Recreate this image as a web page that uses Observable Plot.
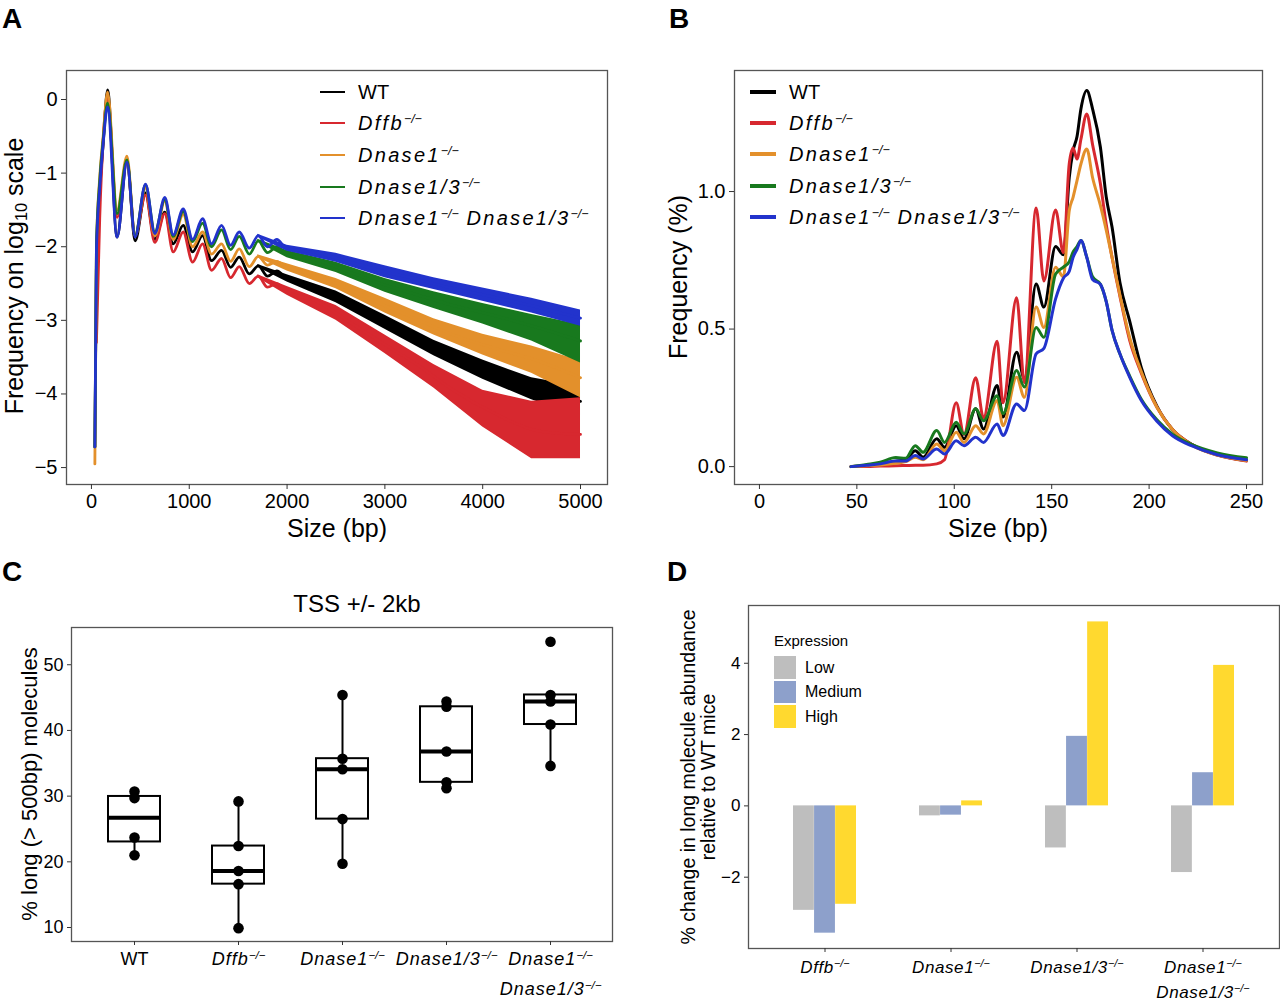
<!DOCTYPE html>
<html><head><meta charset="utf-8">
<script src="https://cdn.jsdelivr.net/npm/d3@7"></script>
<script src="https://cdn.jsdelivr.net/npm/@observablehq/plot@0.6"></script>
<style>
html, body { margin:0; padding:0; background:#fff; }
body { width:1280px; height:1000px; overflow:hidden; position:relative; font-family:"Liberation Sans", Arial, Helvetica, sans-serif; color:#000; }
.gene { font-style:italic; }
sup { font-size:62%; vertical-align:0.6em; line-height:0; letter-spacing:0; }
sub { font-size:65%; vertical-align:-0.25em; line-height:0; }
</style>
</head><body>
<script>
// ---------------- Panel A data (log10 frequency vs fragment size, 0-5000 bp) ----------------
const genotypes = ["WT", "Dffb−/−", "Dnase1−/−", "Dnase1/3−/−", "Dnase1−/− Dnase1/3−/−"];
const genoColors = ["#000000", "#D7282F", "#E3902B", "#18791E", "#2233CC"];

const sizeA = [35, 51, 85, 120, 165, 262, 363, 446, 553, 648, 750, 836, 938, 1034, 1136, 1228, 1330, 1423, 1511, 1614, 1706, 1800, 1895, 1990, 2300, 2669, 3000, 3350, 3702, 4100, 4562, 5000];
const logWT     = [-4.72, -2.2, -1.25, -0.6, 0.13, -1.87, -0.83, -1.92, -1.27, -1.9, -1.53, -1.96, -1.71, -2.07, -1.85, -2.19, -2.05, -2.28, -2.14, -2.37, -2.26, -2.4, -2.33, -2.43, -2.56, -2.8, -3.02, -3.28, -3.52, -3.72, -3.95, -4.1];
const logDffb   = [null, -3.3, -1.6, -0.55, 0.03, -1.6, -0.85, -1.85, -1.3, -1.94, -1.55, -2.07, -1.8, -2.21, -1.96, -2.32, -2.16, -2.42, -2.27, -2.5, -2.4, -2.55, -2.5, -2.6, -2.74, -3.05, -3.33, -3.62, -3.95, -4.25, -4.5, -4.55];
const logDnase1 = [-4.95, -2.0, -1.05, -0.5, 0.1, -1.5, -0.77, -1.85, -1.2, -1.85, -1.38, -1.9, -1.56, -2.0, -1.8, -2.1, -1.96, -2.2, -2.03, -2.27, -2.13, -2.25, -2.2, -2.28, -2.38, -2.6, -2.8, -3.0, -3.2, -3.37, -3.55, -3.78];
const logDnase13= [-4.72, -2.0, -1.1, -0.55, -0.05, -1.55, -0.82, -1.85, -1.16, -1.8, -1.36, -1.86, -1.52, -1.93, -1.68, -2.0, -1.77, -2.04, -1.86, -2.1, -1.92, -2.08, -2.0, -2.1, -2.18, -2.36, -2.52, -2.66, -2.8, -2.93, -3.1, -3.28];
const logDKO    = [-4.72, -2.05, -1.19, -0.6, -0.1, -1.87, -0.85, -1.87, -1.15, -1.82, -1.33, -1.84, -1.485, -1.9, -1.62, -1.96, -1.71, -1.98, -1.8, -2.02, -1.85, -2.0, -1.9, -2.02, -2.08, -2.22, -2.34, -2.45, -2.57, -2.68, -2.82, -2.97];

// noise envelope of the long-fragment tail (lower / upper edge of each trace)
const bandSizes = [1700, 2000, 2500, 3000, 3500, 4000, 4500, 5000];
const loWT      = [-2.28, -2.48, -2.76, -3.12, -3.48, -3.8, -4.08, -4.3];
const hiWT      = [-2.24, -2.38, -2.6, -2.93, -3.27, -3.54, -3.78, -3.9];
const loDffb    = [-2.42, -2.66, -3.0, -3.45, -3.92, -4.45, -4.88, -4.88];
const hiDffb    = [-2.38, -2.54, -2.8, -3.2, -3.6, -3.95, -4.1, -4.05];
const loDnase1  = [-2.15, -2.33, -2.57, -2.9, -3.2, -3.47, -3.72, -4.05];
const hiDnase1  = [-2.11, -2.23, -2.43, -2.7, -2.98, -3.19, -3.35, -3.55];
const loDnase13 = [-1.94, -2.15, -2.35, -2.62, -2.84, -3.05, -3.28, -3.58];
const hiDnase13 = [-1.9, -2.05, -2.21, -2.43, -2.61, -2.77, -2.92, -3.06];
const loDKO     = [-1.87, -2.06, -2.21, -2.42, -2.58, -2.74, -2.9, -3.08];
const hiDKO     = [-1.83, -1.98, -2.09, -2.26, -2.42, -2.56, -2.7, -2.86];

// ---------------- Panel B data (frequency %, 47-250 bp) ----------------
const sizeB = [47, 55, 62, 70, 75, 80, 84, 91, 95, 101, 105, 111, 115, 122, 125, 132, 136, 142, 146, 152, 156, 159, 161, 163, 165, 168, 171, 175, 178, 181, 185, 190, 196, 204, 212, 222, 235, 250];
const pctWT      = [0.0, 0.003, 0.008, 0.02, 0.025, 0.058, 0.034, 0.101, 0.07, 0.149, 0.101, 0.21, 0.137, 0.295, 0.18, 0.416, 0.319, 0.664, 0.58, 0.8, 0.77, 1.05, 1.149, 1.2, 1.3, 1.367, 1.3, 1.161, 0.98, 0.87, 0.67, 0.53, 0.36, 0.22, 0.135, 0.08, 0.043, 0.022];
const pctDffb    = [0.0, 0.0, 0.002, 0.003, 0.004, 0.005, 0.005, 0.01, 0.025, 0.232, 0.117, 0.323, 0.177, 0.456, 0.232, 0.614, 0.305, 0.94, 0.675, 0.933, 0.778, 1.1, 1.158, 1.118, 1.19, 1.282, 1.17, 1.028, 0.88, 0.76, 0.62, 0.46, 0.34, 0.216, 0.135, 0.08, 0.042, 0.02];
const pctDnase1  = [0.0, 0.003, 0.006, 0.012, 0.018, 0.034, 0.025, 0.082, 0.058, 0.125, 0.088, 0.149, 0.119, 0.24, 0.149, 0.325, 0.252, 0.58, 0.506, 0.725, 0.69, 0.93, 0.98, 1.04, 1.1, 1.155, 1.05, 0.95, 0.86, 0.76, 0.625, 0.47, 0.345, 0.216, 0.135, 0.078, 0.042, 0.022];
const pctDnase13 = [0.0, 0.008, 0.016, 0.033, 0.03, 0.076, 0.052, 0.131, 0.088, 0.161, 0.119, 0.21, 0.167, 0.258, 0.192, 0.349, 0.289, 0.506, 0.47, 0.7, 0.725, 0.745, 0.78, 0.8, 0.822, 0.761, 0.69, 0.663, 0.6, 0.495, 0.41, 0.33, 0.245, 0.17, 0.118, 0.08, 0.05, 0.032];
const pctDKO     = [0.0, 0.005, 0.01, 0.02, 0.02, 0.04, 0.028, 0.064, 0.046, 0.094, 0.076, 0.107, 0.088, 0.155, 0.113, 0.228, 0.204, 0.41, 0.43, 0.61, 0.685, 0.71, 0.761, 0.79, 0.822, 0.761, 0.68, 0.663, 0.6, 0.495, 0.41, 0.325, 0.24, 0.165, 0.112, 0.075, 0.043, 0.025];

// ---------------- Panel C data (% long molecules, per mouse) ----------------
const groupsC = ["WT", "Dffb−/−", "Dnase1−/−", "Dnase1/3−/−", "Dnase1−/−\nDnase1/3−/−"];
const longWT      = [30.7, 29.7, 23.7, 21.0];
const longDffb    = [29.2, 22.4, 18.6, 16.6, 9.9];
const longDnase1  = [45.4, 35.7, 34.1, 26.5, 19.7];
const longDnase13 = [44.4, 43.6, 36.8, 32.1, 31.2];
const longDKO     = [53.5, 45.4, 44.4, 40.9, 34.6];

// ---------------- Panel D data (% change relative to WT) ----------------
const groupsD = ["Dffb−/−", "Dnase1−/−", "Dnase1/3−/−", "Dnase1−/−\nDnase1/3−/−"];
const exprLevels = ["Low", "Medium", "High"];
const exprColors = ["#BEBEBE", "#8DA0CB", "#FFD92F"];
const changeLow    = [-2.93, -0.28, -1.18, -1.87];
const changeMedium = [-3.57, -0.26, 1.95, 0.93];
const changeHigh   = [-2.76, 0.14, 5.16, 3.94];

// ================= helpers =================
const FONT = "Liberation Sans, Arial, Helvetica, sans-serif";
const SVGNS = "http://www.w3.org/2000/svg";

function place(node, left, top) {
  const d = document.createElement("div");
  d.style.cssText = `position:absolute;left:${left}px;top:${top}px;line-height:0;`;
  d.appendChild(node);
  document.body.appendChild(d);
  return d;
}
function htmlText(html, {x, y, size, anchor = "middle", rotate = 0, weight = "normal", extra = ""}) {
  const d = document.createElement("div");
  d.innerHTML = html;
  const tx = anchor === "middle" ? "-50%" : anchor === "end" ? "-100%" : "0";
  d.style.cssText = `position:absolute;left:${x}px;top:${y}px;font-size:${size}px;line-height:1;white-space:nowrap;font-weight:${weight};text-align:center;${extra}`;
  d.style.transform = `translate(${tx},-50%)` + (rotate ? ` rotate(${rotate}deg)` : "");
  document.body.appendChild(d);
  return d;
}
function keyLine(x, y, w, h, color) {
  const d = document.createElement("div");
  d.style.cssText = `position:absolute;left:${x}px;top:${y - h / 2}px;width:${w}px;height:${h}px;background:${color};`;
  document.body.appendChild(d);
}
// superscript "−/−" inside svg text
function supify(svg) {
  const walker = document.createTreeWalker(svg, NodeFilter.SHOW_TEXT);
  const nodes = [];
  while (walker.nextNode()) nodes.push(walker.currentNode);
  for (const n of nodes) {
    const s = n.nodeValue;
    if (!s.includes("−/−")) continue;
    const parts = s.split("−/−");
    const frag = document.createDocumentFragment();
    parts.forEach((p, k) => {
      if (p) frag.appendChild(document.createTextNode(p));
      if (k < parts.length - 1) {
        const t = document.createElementNS(SVGNS, "tspan");
        t.setAttribute("baseline-shift", "super");
        t.setAttribute("font-size", "64%");
        t.setAttribute("letter-spacing", "0");
        t.textContent = "−/−";
        frag.appendChild(t);
      }
    });
    n.parentNode.replaceChild(frag, n);
  }
}
function italicGeneTicks(svg, spacing) {
  svg.querySelectorAll('g[aria-label="x-axis tick label"] text').forEach(t => {
    if (t.textContent.trim() !== "WT") {
      t.setAttribute("font-style", "italic");
      t.setAttribute("letter-spacing", spacing);
    }
  });
}
const geneHTML = s => s === "WT" ? "WT" :
  `<span class="gene">${s.replace(/−\/−/g, "<sup>−/−</sup>")}</span>`;

// ================= Panel A =================
{
  const series = [
    [logWT, loWT, hiWT], [logDffb, loDffb, hiDffb], [logDnase1, loDnase1, hiDnase1],
    [logDnase13, loDnase13, hiDnase13], [logDKO, loDKO, hiDKO]
  ];
  const marks = series.flatMap(([vals, lo, hi], i) => [
    Plot.areaY(bandSizes.map((s, j) => ({x: s, lo: lo[j], hi: hi[j]})),
      {x: "x", y1: "lo", y2: "hi", fill: genoColors[i], curve: "linear"}),
    Plot.line(sizeA.map((s, j) => ({x: s, y: vals[j]})).filter(d => d.y != null),
      {x: "x", y: "y", stroke: genoColors[i], strokeWidth: 2.8, curve: "monotone-x"})
  ]);
  const svg = Plot.plot({
    width: 620, height: 490,
    marginLeft: 66, marginRight: 13, marginTop: 10, marginBottom: 66,
    style: {fontFamily: FONT, color: "#000", background: "transparent", overflow: "visible"},
    x: {domain: [-255, 5276], label: null},
    y: {domain: [-5.23, 0.394], label: null},
    marks: [
      ...marks,
      Plot.frame({stroke: "#555", strokeWidth: 1.3}),
      Plot.axisX({ticks: [0, 1000, 2000, 3000, 4000, 5000], tickFormat: d3.format("d"), tickSize: 5, tickPadding: 4, fontSize: 20, stroke: "#333", label: null}),
      Plot.axisY({ticks: [0, -1, -2, -3, -4, -5], tickFormat: d3.format("d"), tickSize: 5, tickPadding: 4, fontSize: 20, stroke: "#333", label: null})
    ]
  });
  place(svg, 0, 60);
  htmlText("Size (bp)", {x: 337, y: 528, size: 25});
  htmlText("Frequency on log<sub>10</sub> scale", {x: 14, y: 276, size: 25, rotate: -90});
  // legend
  const rows = [92, 123, 155, 187, 218];
  genotypes.forEach((g, i) => {
    keyLine(320, rows[i], 25, 2.5, genoColors[i]);
    htmlText(geneHTML(g), {x: 358, y: rows[i], size: 20, anchor: "start", extra: g === "WT" ? "" : "letter-spacing:2.3px;"});
  });
}

// ================= Panel B =================
{
  const pcts = [pctWT, pctDffb, pctDnase1, pctDnase13, pctDKO];
  const marks = pcts.map((vals, i) =>
    Plot.line(sizeB.map((s, j) => ({x: s, y: vals[j]})),
      {x: "x", y: "y", stroke: genoColors[i], strokeWidth: 3, curve: "monotone-x"}));
  const svg = Plot.plot({
    width: 640, height: 490,
    marginLeft: 94, marginRight: 18, marginTop: 10, marginBottom: 66,
    style: {fontFamily: FONT, color: "#000", background: "transparent", overflow: "visible"},
    x: {domain: [-12.8, 258.2], label: null},
    y: {domain: [-0.065, 1.44], label: null},
    marks: [
      ...marks,
      Plot.frame({stroke: "#555", strokeWidth: 1.3}),
      Plot.axisX({ticks: [0, 50, 100, 150, 200, 250], tickSize: 5, tickPadding: 4, fontSize: 20, stroke: "#333", label: null}),
      Plot.axisY({ticks: [0, 0.5, 1.0], tickFormat: d3.format(".1f"), tickSize: 5, tickPadding: 4, fontSize: 20, stroke: "#333", label: null})
    ]
  });
  place(svg, 640, 60);
  htmlText("Size (bp)", {x: 998, y: 528, size: 25});
  htmlText("Frequency (%)", {x: 678, y: 277, size: 25, rotate: -90});
  const rows = [92, 123, 154, 186, 217];
  genotypes.forEach((g, i) => {
    keyLine(750, rows[i], 26, 4, genoColors[i]);
    htmlText(geneHTML(g), {x: 789, y: rows[i], size: 20, anchor: "start", extra: g === "WT" ? "" : "letter-spacing:2.3px;"});
  });
}

// ================= Panel C =================
{
  const vals = [longWT, longDffb, longDnase1, longDnase13, longDKO];
  const stats = vals.map((v, i) => {
    const s = v.slice().sort(d3.ascending);
    const q1 = d3.quantileSorted(s, 0.25), med = d3.quantileSorted(s, 0.5), q3 = d3.quantileSorted(s, 0.75);
    const iqr = q3 - q1;
    return {g: groupsC[i], q1, med, q3,
      lo: d3.min(s.filter(x => x >= q1 - 1.5 * iqr)),
      hi: d3.max(s.filter(x => x <= q3 + 1.5 * iqr))};
  });
  const points = vals.flatMap((v, i) => v.map(y => ({g: groupsC[i], y})));
  const svg = Plot.plot({
    width: 640, height: 420,
    marginLeft: 71, marginRight: 28, marginTop: 47, marginBottom: 59,
    style: {fontFamily: FONT, color: "#000", background: "transparent", overflow: "visible"},
    x: {type: "band", domain: groupsC, paddingInner: 0.5, paddingOuter: 0.35, label: null},
    y: {domain: [7.87, 55.67], label: null},
    marks: [
      Plot.ruleX(stats, {x: "g", y1: "lo", y2: "hi", stroke: "#000", strokeWidth: 2}),
      Plot.barY(stats, {x: "g", y1: "q1", y2: "q3", fill: "#fff", stroke: "#000", strokeWidth: 2}),
      Plot.tickY(stats, {x: "g", y: "med", stroke: "#000", strokeWidth: 4}),
      Plot.dot(points, {x: "g", y: "y", r: 5.3, fill: "#000"}),
      Plot.frame({stroke: "#555", strokeWidth: 1.3}),
      Plot.axisY({ticks: [10, 20, 30, 40, 50], tickSize: 4, tickPadding: 4, fontSize: 18, stroke: "#333", label: null}),
      Plot.axisX({tickSize: 4, tickPadding: -2, fontSize: 18, lineHeight: 1.68, stroke: "#333", label: null})
    ]
  });
  italicGeneTicks(svg, "1px");
  supify(svg);
  place(svg, 0, 580);
  htmlText("TSS +/- 2kb", {x: 357, y: 604, size: 24});
  htmlText("% long (&gt; 500bp) molecules", {x: 30, y: 784, size: 22, rotate: -90});
}

// ================= Panel D =================
{
  const plotW = 620 - 88 - 1;
  const bandW = plotW / 4.2 * 0.5;      // width of one group of three bars
  const barW = bandW / 3;
  const series = [changeLow, changeMedium, changeHigh];
  const insets = [[0, 2 * barW], [barW, barW], [2 * barW, 0]];
  const marks = series.map((vals, i) =>
    Plot.barY(groupsD.map((g, j) => ({g, v: vals[j]})),
      {x: "g", y: "v", fill: exprColors[i], insetLeft: insets[i][0], insetRight: insets[i][1]}));
  const svg = Plot.plot({
    width: 620, height: 420,
    marginLeft: 88, marginRight: 1, marginTop: 25, marginBottom: 52,
    style: {fontFamily: FONT, color: "#000", background: "transparent", overflow: "visible"},
    x: {type: "band", domain: groupsD, paddingInner: 0.5, paddingOuter: 0.35, label: null},
    y: {domain: [-4.0, 5.62], label: null},
    marks: [
      ...marks,
      Plot.frame({stroke: "#555", strokeWidth: 1.3}),
      Plot.axisY({ticks: [-2, 0, 2, 4], tickFormat: d3.format("d"), tickSize: 4, tickPadding: 4, fontSize: 17, stroke: "#333", label: null}),
      Plot.axisX({tickSize: 4, tickPadding: 2, fontSize: 17, lineHeight: 1.5, stroke: "#333", label: null})
    ]
  });
  italicGeneTicks(svg, "0.6px");
  supify(svg);
  place(svg, 660, 580);
  htmlText("% change in long molecule abundance<br>relative to WT mice", {x: 698, y: 777, size: 19.5, rotate: -90});
  // legend
  htmlText("Expression", {x: 774, y: 640, size: 15, anchor: "start"});
  const tops = [656, 680.5, 705];
  exprLevels.forEach((lvl, i) => {
    const d = document.createElement("div");
    d.style.cssText = `position:absolute;left:774px;top:${tops[i]}px;width:22px;height:22.5px;background:${exprColors[i]};`;
    document.body.appendChild(d);
    htmlText(lvl, {x: 805, y: tops[i] + 11.5, size: 16, anchor: "start"});
  });
}

// ================= panel letters =================
htmlText("A", {x: 2, y: 19, size: 28, anchor: "start", weight: "bold"});
htmlText("B", {x: 669, y: 19, size: 28, anchor: "start", weight: "bold"});
htmlText("C", {x: 2, y: 572, size: 28, anchor: "start", weight: "bold"});
htmlText("D", {x: 667, y: 572, size: 28, anchor: "start", weight: "bold"});
</script>
</body></html>
